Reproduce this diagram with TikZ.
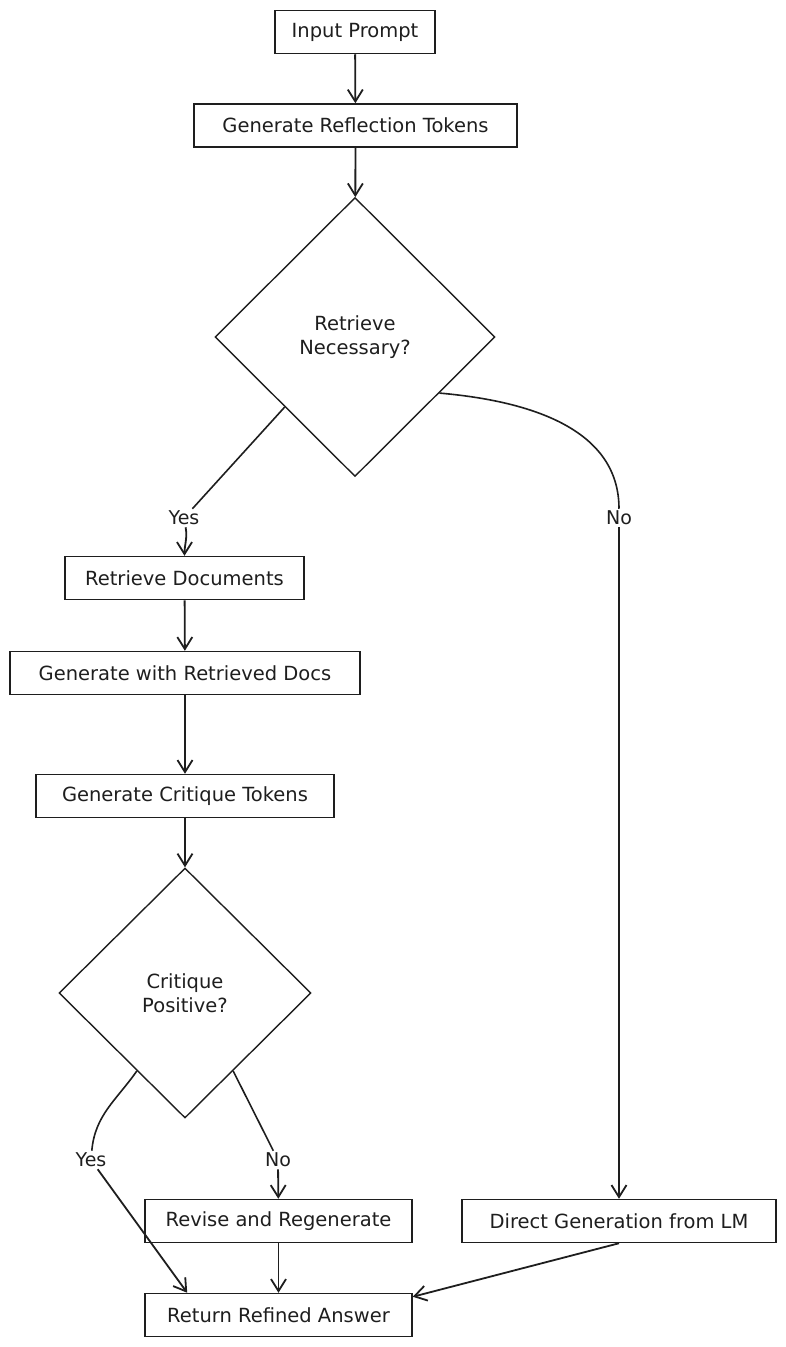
\documentclass[tikz,border=0pt]{standalone}
\usepackage{fontspec}
\setmainfont{DejaVu Sans}
\usepackage{tikz}
\usetikzlibrary{arrows.meta,positioning,shapes.geometric,calc}
\definecolor{InkBlack}{HTML}{1e1e1e}

\begin{document}
\begin{tikzpicture}[x=1pt,y=-1pt,
        box/.style={draw=InkBlack,line width=1.5pt,fill=white,
                    minimum height=43pt,inner sep=2pt,
                    font=\fontsize{19.5}{23}\selectfont,text=InkBlack},
        choice/.style={diamond,draw=InkBlack,line width=1.4pt,
                    inner sep=0pt,align=center,
                    font=\fontsize{19.5}{24}\selectfont,text=InkBlack},
        lbl/.style={inner sep=2pt,font=\fontsize{19}{22}\selectfont,text=InkBlack},
        arr/.style={-{Straight Barb[length=12pt,width=15pt]},line width=1.8pt,InkBlack},
        wire/.style={line width=1.6pt,InkBlack}]

        \useasboundingbox (0,0) rectangle (786,1347);

        % main column
        \node[box,minimum width=160pt] (inp)  at (355,32)   {Input Prompt};
        \node[box,minimum width=323pt] (refl) at (355.5,125.5) {Generate Reflection Tokens};
        \node[choice,minimum width=280pt,minimum height=279pt] (need) at (355,337)
              {Retrieve\\Necessary?};

        % retrieval branch
        \node[box,minimum width=239pt] (ret)  at (184.5,578) {Retrieve Documents};
        \node[box,minimum width=350pt] (gen)  at (185,673)   {Generate with Retrieved Docs};
        \node[box,minimum width=298pt] (crit) at (185,796)   {Generate Critique Tokens};
        \node[choice,minimum width=252pt,minimum height=250pt] (good) at (185,993)
              {Critique\\Positive?};
        \node[box,minimum width=267pt] (rev)  at (278.5,1221) {Revise and Regenerate};
        \node[box,minimum width=267pt] (ans)  at (278.5,1315) {Return Refined Answer};

        % no-retrieval branch
        \node[box,minimum width=314pt] (dir)  at (619,1221) {Direct Generation from LM};

        % branch labels
        \node[lbl] (yesA) at (184,518)  {Yes};
        \node[lbl] (noA)  at (619,518)  {No};
        \node[lbl] (yesB) at (91,1160)  {Yes};
        \node[lbl] (noB)  at (278,1160) {No};

        \coordinate (ansIn) at ($(ans.north west)!0.16!(ans.north east)$);

        \foreach \a/\b in {inp/refl,refl/need,ret/gen,gen/crit,crit/good,rev/ans}{
          \draw[arr] (\a) -- (\b);
        }

        % decision: retrieve?
        \draw[wire] (need.south west) -- (yesA);
        \draw[arr] (yesA) to[out=-80,in=90] (ret);
        \draw[wire] ($(need.east)!0.4!(need.south)$) to[out=-5,in=90] (noA);
        \draw[arr] (noA) -- (dir);

        % decision: critique ok?
        \draw[wire] ($(good.west)!0.62!(good.south)$) to[out=235,in=85] (yesB);
        \draw[arr] (yesB) -- (ansIn);
        \draw[wire] ($(good.east)!0.62!(good.south)$) -- (noB);
        \draw[arr] (noB) -- (rev);
        \draw[arr] (dir.south) -- ([yshift=-4pt]ans.north east);
      \end{tikzpicture}
\end{document}
